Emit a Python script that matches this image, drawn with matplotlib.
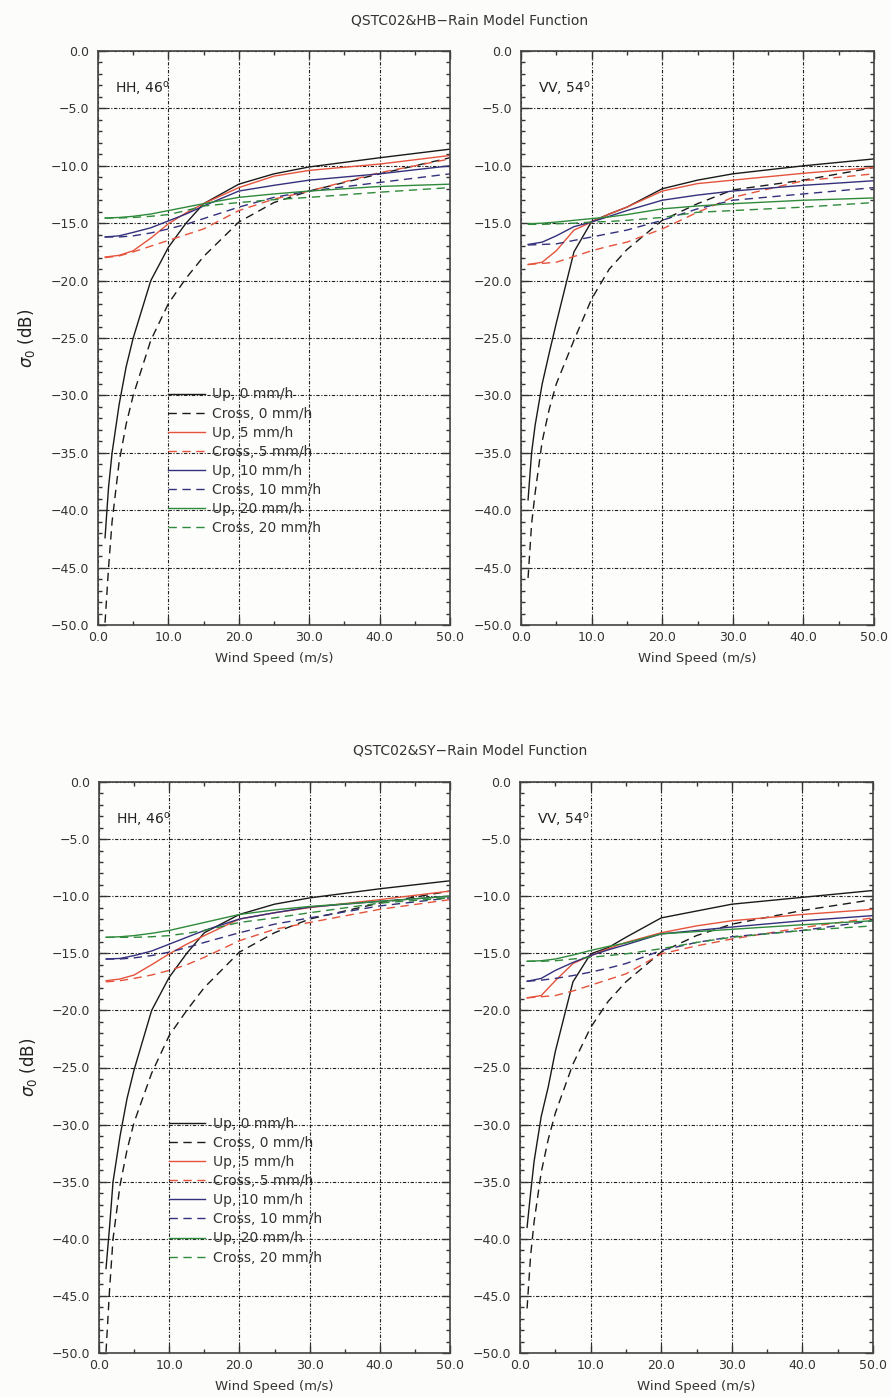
import numpy as np
import matplotlib
matplotlib.use("Agg")
import matplotlib.pyplot as plt
from matplotlib.ticker import MultipleLocator, FuncFormatter

plt.rcParams['font.family'] = ['DejaVu Sans']

# wind speed samples (m/s)
w_clear = [1, 1.5, 2, 3, 4, 5, 7.5, 10, 12.5, 15, 20, 25, 30, 40, 50]
w_rain = [1, 3, 5, 7.5, 10, 12.5, 15, 20, 25, 30, 40, 50]

rates = [0, 5, 10, 20]
colors = ['#1a1a1a', '#e5533d', '#34307c', '#2f8a3c']

# QSTC02 & HB, HH 46 deg
hb_hh_up0 = [-42.4, -38.0, -35.0, -30.8, -27.5, -25.0, -20.0, -17.1, -15.0, -13.3, -11.6, -10.7, -10.1, -9.3, -8.55]
hb_hh_cr0 = [-49.8, -45.0, -41.0, -35.8, -32.5, -30.0, -25.2, -22.0, -19.8, -17.9, -14.9, -13.2, -12.2, -10.7, -9.3]
hb_hh_up5 = [-17.95, -17.8, -17.4, -16.3, -15.05, -14.1, -13.3, -11.9, -10.9, -10.4, -9.85, -9.1]
hb_hh_cr5 = [-18.0, -17.85, -17.5, -17.0, -16.5, -16.0, -15.5, -13.9, -12.9, -12.2, -10.6, -9.4]
hb_hh_up10 = [-16.2, -16.1, -15.8, -15.4, -14.8, -14.2, -13.5, -12.2, -11.7, -11.25, -10.7, -10.0]
hb_hh_cr10 = [-16.2, -16.2, -16.1, -15.85, -15.5, -15.1, -14.6, -13.6, -12.75, -12.2, -11.45, -10.7]
hb_hh_up20 = [-14.55, -14.5, -14.4, -14.2, -13.9, -13.6, -13.3, -12.75, -12.45, -12.2, -11.8, -11.6]
hb_hh_cr20 = [-14.55, -14.55, -14.5, -14.4, -14.25, -13.9, -13.5, -13.2, -12.95, -12.75, -12.3, -11.9]

# QSTC02 & HB, VV 54 deg
hb_vv_up0 = [-39.1, -35.0, -32.6, -29.0, -26.3, -23.7, -17.5, -14.85, -14.2, -13.6, -12.0, -11.25, -10.7, -10.0, -9.4]
hb_vv_cr0 = [-45.9, -41.2, -38.5, -34.0, -31.2, -29.0, -25.2, -21.6, -19.0, -17.3, -14.75, -13.3, -12.1, -11.25, -10.15]
hb_vv_up5 = [-18.6, -18.4, -17.4, -15.6, -14.9, -14.2, -13.6, -12.2, -11.55, -11.25, -10.65, -10.15]
hb_vv_cr5 = [-18.6, -18.5, -18.4, -17.9, -17.4, -17.0, -16.65, -15.5, -14.05, -12.75, -11.3, -10.7]
hb_vv_up10 = [-16.85, -16.65, -16.1, -15.3, -14.9, -14.4, -13.9, -13.0, -12.55, -12.2, -11.7, -11.3]
hb_vv_cr10 = [-16.9, -16.85, -16.8, -16.5, -16.2, -15.9, -15.6, -14.75, -13.75, -13.0, -12.45, -11.9]
hb_vv_up20 = [-15.05, -15.0, -14.9, -14.75, -14.6, -14.45, -14.25, -13.75, -13.5, -13.3, -13.0, -12.8]
hb_vv_cr20 = [-15.1, -15.1, -15.05, -15.0, -14.9, -14.85, -14.75, -14.5, -14.05, -13.9, -13.6, -13.2]

# QSTC02 & SY, HH 46 deg
sy_hh_up0 = [-42.6, -39.0, -35.0, -31.0, -27.7, -25.2, -20.0, -17.1, -15.0, -13.2, -11.6, -10.7, -10.15, -9.35, -8.65]
sy_hh_cr0 = [-49.9, -44.5, -40.0, -35.3, -32.2, -29.8, -25.5, -22.2, -20.0, -18.0, -14.9, -13.2, -12.0, -10.6, -9.55]
sy_hh_up5 = [-17.4, -17.25, -16.9, -16.0, -15.05, -14.2, -13.45, -12.0, -11.45, -11.0, -10.3, -9.55]
sy_hh_cr5 = [-17.5, -17.4, -17.2, -16.9, -16.5, -16.0, -15.35, -13.9, -12.9, -12.3, -11.15, -10.3]
sy_hh_up10 = [-15.5, -15.45, -15.2, -14.8, -14.2, -13.6, -13.0, -12.0, -11.45, -10.95, -10.45, -10.0]
sy_hh_cr10 = [-15.5, -15.5, -15.4, -15.2, -14.9, -14.5, -14.05, -13.2, -12.45, -11.9, -10.85, -10.15]
sy_hh_up20 = [-13.6, -13.55, -13.45, -13.25, -13.0, -12.65, -12.3, -11.6, -11.2, -10.9, -10.45, -10.0]
sy_hh_cr20 = [-13.6, -13.6, -13.6, -13.55, -13.45, -13.25, -13.0, -12.3, -11.9, -11.45, -10.6, -10.15]

# QSTC02 & SY, VV 54 deg
sy_vv_up0 = [-39.0, -36.0, -33.2, -29.3, -26.7, -23.6, -17.5, -15.05, -14.5, -13.6, -11.9, -11.3, -10.7, -10.1, -9.5]
sy_vv_cr0 = [-46.1, -41.5, -38.5, -34.2, -31.3, -29.0, -24.7, -21.5, -19.2, -17.5, -14.9, -13.45, -12.45, -11.25, -10.3]
sy_vv_up5 = [-18.9, -18.7, -17.4, -15.9, -15.2, -14.6, -14.05, -13.2, -12.6, -12.15, -11.6, -11.15]
sy_vv_cr5 = [-18.9, -18.8, -18.7, -18.3, -17.8, -17.3, -16.8, -15.05, -14.35, -13.75, -12.75, -11.9]
sy_vv_up10 = [-17.45, -17.2, -16.5, -15.8, -15.2, -14.7, -14.25, -13.3, -13.0, -12.7, -12.15, -11.7]
sy_vv_cr10 = [-17.45, -17.35, -17.2, -16.95, -16.65, -16.3, -15.9, -14.75, -14.05, -13.55, -13.0, -12.15]
sy_vv_up20 = [-15.7, -15.65, -15.5, -15.15, -14.75, -14.4, -14.1, -13.3, -13.1, -12.9, -12.5, -12.15]
sy_vv_cr20 = [-15.7, -15.7, -15.65, -15.5, -15.35, -15.2, -15.05, -14.6, -14.05, -13.6, -13.0, -12.6]

panels = [
    ("HH, 46$^\\mathrm{o}$", [hb_hh_up0, hb_hh_up5, hb_hh_up10, hb_hh_up20],
     [hb_hh_cr0, hb_hh_cr5, hb_hh_cr10, hb_hh_cr20], True),
    ("VV, 54$^\\mathrm{o}$", [hb_vv_up0, hb_vv_up5, hb_vv_up10, hb_vv_up20],
     [hb_vv_cr0, hb_vv_cr5, hb_vv_cr10, hb_vv_cr20], False),
    ("HH, 46$^\\mathrm{o}$", [sy_hh_up0, sy_hh_up5, sy_hh_up10, sy_hh_up20],
     [sy_hh_cr0, sy_hh_cr5, sy_hh_cr10, sy_hh_cr20], True),
    ("VV, 54$^\\mathrm{o}$", [sy_vv_up0, sy_vv_up5, sy_vv_up10, sy_vv_up20],
     [sy_vv_cr0, sy_vv_cr5, sy_vv_cr10, sy_vv_cr20], False),
]

W, H = 891, 1397
fig = plt.figure(figsize=(W / 100, H / 100), dpi=100, facecolor='#fcfcfa')


def px_axes(left, top, right, bottom):
    return fig.add_axes([left / W, 1 - bottom / H, (right - left) / W, (bottom - top) / H])


def one_decimal(v, pos):
    return f"{v:.1f}".replace('-', '\u2212')


boxes = [(98, 51, 450, 625), (521, 51, 874, 625),
         (99, 782, 450, 1353), (520, 782, 873, 1353)]

grid_ls = (0, (3, 1.5, 1, 1.5))

for (label, ups, crosses, first_col), box in zip(panels, boxes):
    ax = px_axes(*box)
    ax.set_facecolor('#fdfdfb')
    for rate, col, up, cr in zip(rates, colors, ups, crosses):
        wu = w_clear if rate == 0 else w_rain
        ax.plot(wu, up, color=col, lw=1.0, ls='-', label=f"Up, {rate} mm/h")
        ax.plot(wu, cr, color=col, lw=1.0, ls=(0, (6, 4)), label=f"Cross, {rate} mm/h")
    ax.set_xlim(0, 50)
    ax.set_ylim(-50, 0)
    ax.xaxis.set_major_locator(MultipleLocator(10))
    ax.xaxis.set_minor_locator(MultipleLocator(5))
    ax.yaxis.set_major_locator(MultipleLocator(5))
    ax.yaxis.set_minor_locator(MultipleLocator(1))
    ax.xaxis.set_major_formatter(FuncFormatter(one_decimal))
    ax.yaxis.set_major_formatter(FuncFormatter(one_decimal))
    ax.tick_params(which='both', direction='in', top=True, right=True,
                   labelsize=9, colors='#333333', width=1.0)
    ax.tick_params(which='major', length=6)
    ax.tick_params(axis='x', which='major', pad=4)
    ax.tick_params(axis='y', which='major', pad=6.5)
    ax.tick_params(which='minor', length=3)
    ax.grid(True, which='major', color='#222222', lw=0.8, ls=grid_ls)
    for s in ax.spines.values():
        s.set_linewidth(1.2)
        s.set_color('#444444')
    ax.set_xlabel("Wind Speed (m/s)", fontsize=9.5, color='#333333', labelpad=6)
    ax.text(2.4, -3.2, label, fontsize=10, color='#222222', va='center', ha='left')
    if first_col:
        ax.set_ylabel("$\\sigma_0$ (dB)", fontsize=12, color='#222222')
        ax.yaxis.set_label_coords(-0.172, 0.5)
        ax.legend(loc='upper left', bbox_to_anchor=(0.2, 0.414), frameon=False,
                  fontsize=10, handlelength=2.6, handletextpad=0.55,
                  labelspacing=0.37, borderpad=0, borderaxespad=0,
                  labelcolor='#333333')

fig.text(470 / W, 1 - 20 / H, "QSTC02&HB\u2212Rain Model Function",
         ha='center', va='center', fontsize=10, color='#333333')
fig.text(470 / W, 1 - 751 / H, "QSTC02&SY\u2212Rain Model Function",
         ha='center', va='center', fontsize=10, color='#333333')

fig.savefig("out.png", dpi=100, facecolor=fig.get_facecolor())
